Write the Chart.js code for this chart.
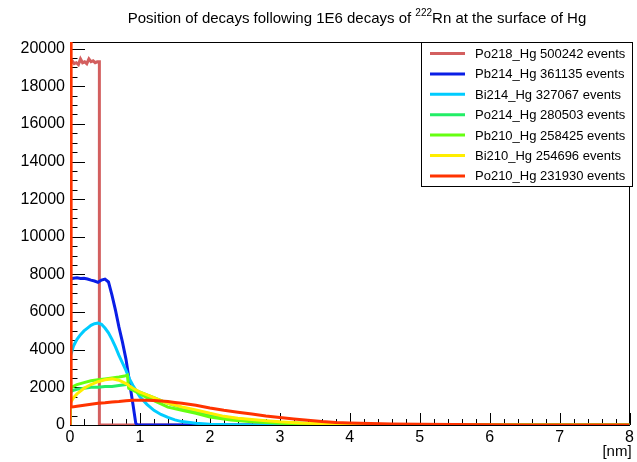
<!DOCTYPE html>
<html>
<head>
<meta charset="utf-8">
<script src="https://cdn.jsdelivr.net/npm/chart.js@4.4.1/dist/chart.umd.min.js"></script>
<style>
  html, body { margin: 0; padding: 0; background: #fff; }
</style>
</head>
<body>
<canvas id="chart" width="637" height="462"></canvas>
<script>
// histogram contents, x in nm, y in counts per bin
const po218X = [0, 0, 0.03, 0.06, 0.09, 0.12, 0.15, 0.18, 0.21, 0.24, 0.27, 0.30, 0.33, 0.36, 0.39, 0.42, 0.42, 8];
const po218Y = [0, 19150, 19350, 19200, 19250, 19150, 19450, 19250, 19300, 19200, 19450, 19300, 19350, 19250, 19300, 19300, 0, 0];

const pb214X = [0, 0, 0.05, 0.1, 0.15, 0.2, 0.25, 0.3, 0.35, 0.4, 0.45, 0.5, 0.55, 0.6, 0.65, 0.7, 0.75, 0.8, 0.85, 0.9, 0.94, 0.96, 8];
const pb214Y = [0, 7750, 7800, 7820, 7780, 7800, 7760, 7700, 7650, 7580, 7700, 7750, 7600, 6900, 6100, 5200, 4400, 3500, 2300, 1100, 100, 0, 0];

const bi214X = [0, 0, 0.05, 0.1, 0.15, 0.2, 0.25, 0.3, 0.35, 0.4, 0.45, 0.5, 0.55, 0.6, 0.65, 0.7, 0.75, 0.8, 0.85, 0.9, 0.95, 1.0, 1.1, 1.2, 1.3, 1.4, 1.5, 1.6, 1.8, 2.0, 2.3, 2.6, 3.0, 8];
const bi214Y = [0, 3600, 4200, 4550, 4800, 5000, 5150, 5300, 5380, 5420, 5350, 5150, 4900, 4550, 4150, 3700, 3300, 2900, 2450, 2100, 1800, 1500, 1100, 780, 560, 400, 270, 180, 90, 40, 15, 5, 0, 0];

const po214X = [0, 0, 0.05, 0.1, 0.2, 0.3, 0.4, 0.5, 0.6, 0.7, 0.8, 0.82, 0.85, 0.9, 1.0, 1.1, 1.2, 1.4, 1.6, 1.8, 2.0, 2.3, 2.6, 3.0, 3.5, 4.0, 4.5, 5.0, 8];
const po214Y = [0, 1750, 1850, 1900, 1950, 2000, 2000, 2050, 2050, 2100, 2150, 2200, 1950, 1900, 1750, 1600, 1450, 1150, 920, 720, 560, 370, 250, 140, 60, 25, 8, 0, 0];

const pb210X = [0, 0, 0.05, 0.1, 0.2, 0.3, 0.4, 0.5, 0.6, 0.7, 0.78, 0.82, 0.84, 0.9, 1.0, 1.1, 1.2, 1.4, 1.6, 1.8, 2.0, 2.3, 2.6, 3.0, 3.5, 4.0, 4.5, 8];
const pb210Y = [0, 1950, 2050, 2150, 2250, 2350, 2400, 2450, 2500, 2550, 2600, 2650, 1950, 1850, 1650, 1450, 1300, 950, 780, 620, 430, 270, 170, 90, 35, 12, 0, 0];

const bi210X = [0, 0, 0.05, 0.1, 0.15, 0.2, 0.3, 0.4, 0.5, 0.6, 0.7, 0.8, 0.9, 1.0, 1.1, 1.2, 1.3, 1.4, 1.6, 1.8, 2.0, 2.2, 2.4, 2.6, 2.8, 3.0, 3.3, 3.6, 4.0, 4.5, 5.0, 5.5, 8];
const bi210Y = [0, 1150, 1450, 1650, 1800, 1950, 2150, 2300, 2400, 2450, 2380, 2200, 1950, 1750, 1600, 1450, 1300, 1150, 960, 800, 620, 460, 360, 290, 230, 170, 110, 70, 35, 15, 5, 0, 0];

const po210X = [0, 0, 0.016, 0.016, 0.1, 0.2, 0.3, 0.4, 0.5, 0.6, 0.7, 0.8, 0.9, 1.0, 1.1, 1.2, 1.3, 1.4, 1.5, 1.6, 1.8, 2.0, 2.2, 2.4, 2.6, 2.8, 3.0, 3.2, 3.4, 3.6, 3.8, 4.0, 4.3, 4.6, 5.0, 5.5, 6.0, 6.5, 8];
const po210Y = [0, 40000, 40000, 950, 1000, 1050, 1100, 1150, 1180, 1220, 1250, 1290, 1310, 1320, 1320, 1300, 1280, 1250, 1200, 1150, 1050, 900, 780, 680, 580, 480, 400, 320, 250, 180, 130, 100, 75, 55, 38, 20, 8, 0, 0];

const seriesNames = ["Po218_Hg", "Pb214_Hg", "Bi214_Hg", "Po214_Hg", "Pb210_Hg", "Bi210_Hg", "Po210_Hg"];
const seriesEvents = [500242, 361135, 327067, 280503, 258425, 254696, 231930];
const seriesColors = ["#d35f5f", "#0a1ee6", "#00ccff", "#22ee66", "#66ff11", "#ffee00", "#ff3300"];
const seriesX = [po218X, pb214X, bi214X, po214X, pb210X, bi210X, po210X];
const seriesY = [po218Y, pb214Y, bi214Y, po214Y, pb210Y, bi210Y, po210Y];

const xTickValues = [0, 1, 2, 3, 4, 5, 6, 7, 8];
const yTickValues = [0, 2000, 4000, 6000, 8000, 10000, 12000, 14000, 16000, 18000, 20000];

const xMin = 0, xMax = 8;
const yMin = 0, yMax = 20350;
const FONT = '"Liberation Sans", Arial, sans-serif';

const datasets = seriesNames.map((name, i) => ({
  label: name + " " + seriesEvents[i] + " events",
  data: seriesX[i].map((x, k) => ({ x: x, y: seriesY[i][k] })),
  borderColor: seriesColors[i],
  backgroundColor: seriesColors[i],
  borderWidth: 3,
  pointRadius: 0,
  fill: false,
  tension: 0,
  order: seriesNames.length - 1 - i
}));

// ROOT-like frame with inward ticks
const frameTicks = {
  id: "frameTicks",
  beforeDatasetsDraw(chart) {
    const { ctx, chartArea: a, scales } = chart;
    ctx.save();
    ctx.strokeStyle = "#000";
    ctx.lineWidth = 1;
    for (let v = 0; v <= 20000; v += 500) {
      const y = Math.round(scales.y.getPixelForValue(v)) + 0.5;
      const len = v % 2000 === 0 ? 15 : 7.5;
      ctx.beginPath();
      ctx.moveTo(a.left, y);
      ctx.lineTo(a.left + len, y);
      ctx.stroke();
    }
    for (let k = 0; k <= 40; k++) {
      const x = Math.round(scales.x.getPixelForValue(k * 0.2)) + 0.5;
      const len = k % 5 === 0 ? 12 : 6;
      ctx.beginPath();
      ctx.moveTo(x, a.bottom);
      ctx.lineTo(x, a.bottom - len);
      ctx.stroke();
    }
    ctx.strokeRect(Math.round(a.left) + 0.5, Math.round(a.top) + 0.5,
      Math.round(a.right - a.left) - 1, Math.round(a.bottom - a.top));
    ctx.restore();
  },
  afterDraw(chart) {
    const { ctx, chartArea: a } = chart;
    ctx.save();
    ctx.fillStyle = "#000";

    // title with superscript
    const t1 = "Position of decays following 1E6 decays of ";
    const sup = "222";
    const t2 = "Rn at the surface of Hg";
    ctx.font = "15px " + FONT;
    const w1 = ctx.measureText(t1).width;
    const w3 = ctx.measureText(t2).width;
    ctx.font = "10px " + FONT;
    const w2 = ctx.measureText(sup).width;
    let x = 357 - (w1 + w2 + w3) / 2;
    ctx.textBaseline = "alphabetic";
    ctx.font = "15px " + FONT;
    ctx.fillText(t1, x, 23);
    ctx.font = "10px " + FONT;
    ctx.fillText(sup, x + w1, 16);
    ctx.font = "15px " + FONT;
    ctx.fillText(t2, x + w1 + w2, 23);

    // axis title
    ctx.textAlign = "right";
    ctx.fillText("[nm]", a.right + 2, 456);

    // legend box
    const lx = 421, ly = a.top, lw = 211, lh = 144;
    ctx.fillStyle = "#fff";
    ctx.fillRect(lx, ly, lw, lh);
    ctx.strokeStyle = "#000";
    ctx.lineWidth = 1;
    ctx.strokeRect(lx + 0.5, ly + 0.5, lw, lh);
    ctx.textAlign = "left";
    ctx.textBaseline = "middle";
    ctx.font = "13px " + FONT;
    chart.data.datasets.forEach((ds, i) => {
      const yy = 53.5 + i * 20.4;
      ctx.strokeStyle = ds.borderColor;
      ctx.lineWidth = 3;
      ctx.beginPath();
      ctx.moveTo(430, yy);
      ctx.lineTo(465, yy);
      ctx.stroke();
      ctx.fillStyle = "#000";
      ctx.fillText(ds.label, 475, yy + 1);
    });
    ctx.restore();
  }
};

new Chart(document.getElementById("chart"), {
  type: "line",
  data: { datasets: datasets },
  options: {
    responsive: false,
    animation: false,
    layout: { padding: { top: 42, right: 7, left: 0, bottom: 0 } },
    plugins: {
      legend: { display: false },
      tooltip: { enabled: false },
      title: { display: false }
    },
    scales: {
      x: {
        type: "linear",
        min: xMin,
        max: xMax,
        grid: { display: false, drawTicks: false },
        border: { display: false },
        afterBuildTicks: s => { s.ticks = xTickValues.map(v => ({ value: v })); },
        ticks: {
          padding: 3,
          maxRotation: 0,
          autoSkip: false,
          color: "#000",
          font: { family: FONT, size: 16 },
          callback: v => String(v)
        },
        afterFit: s => { s.height = 37; }
      },
      y: {
        type: "linear",
        min: yMin,
        max: yMax,
        grid: { display: false, drawTicks: false },
        border: { display: false },
        afterBuildTicks: s => { s.ticks = yTickValues.map(v => ({ value: v })); },
        ticks: {
          padding: 5,
          autoSkip: false,
          color: "#000",
          font: { family: FONT, size: 16 },
          callback: v => String(v)
        },
        afterFit: s => { s.width = 70; }
      }
    }
  },
  plugins: [frameTicks]
});
</script>
</body>
</html>
